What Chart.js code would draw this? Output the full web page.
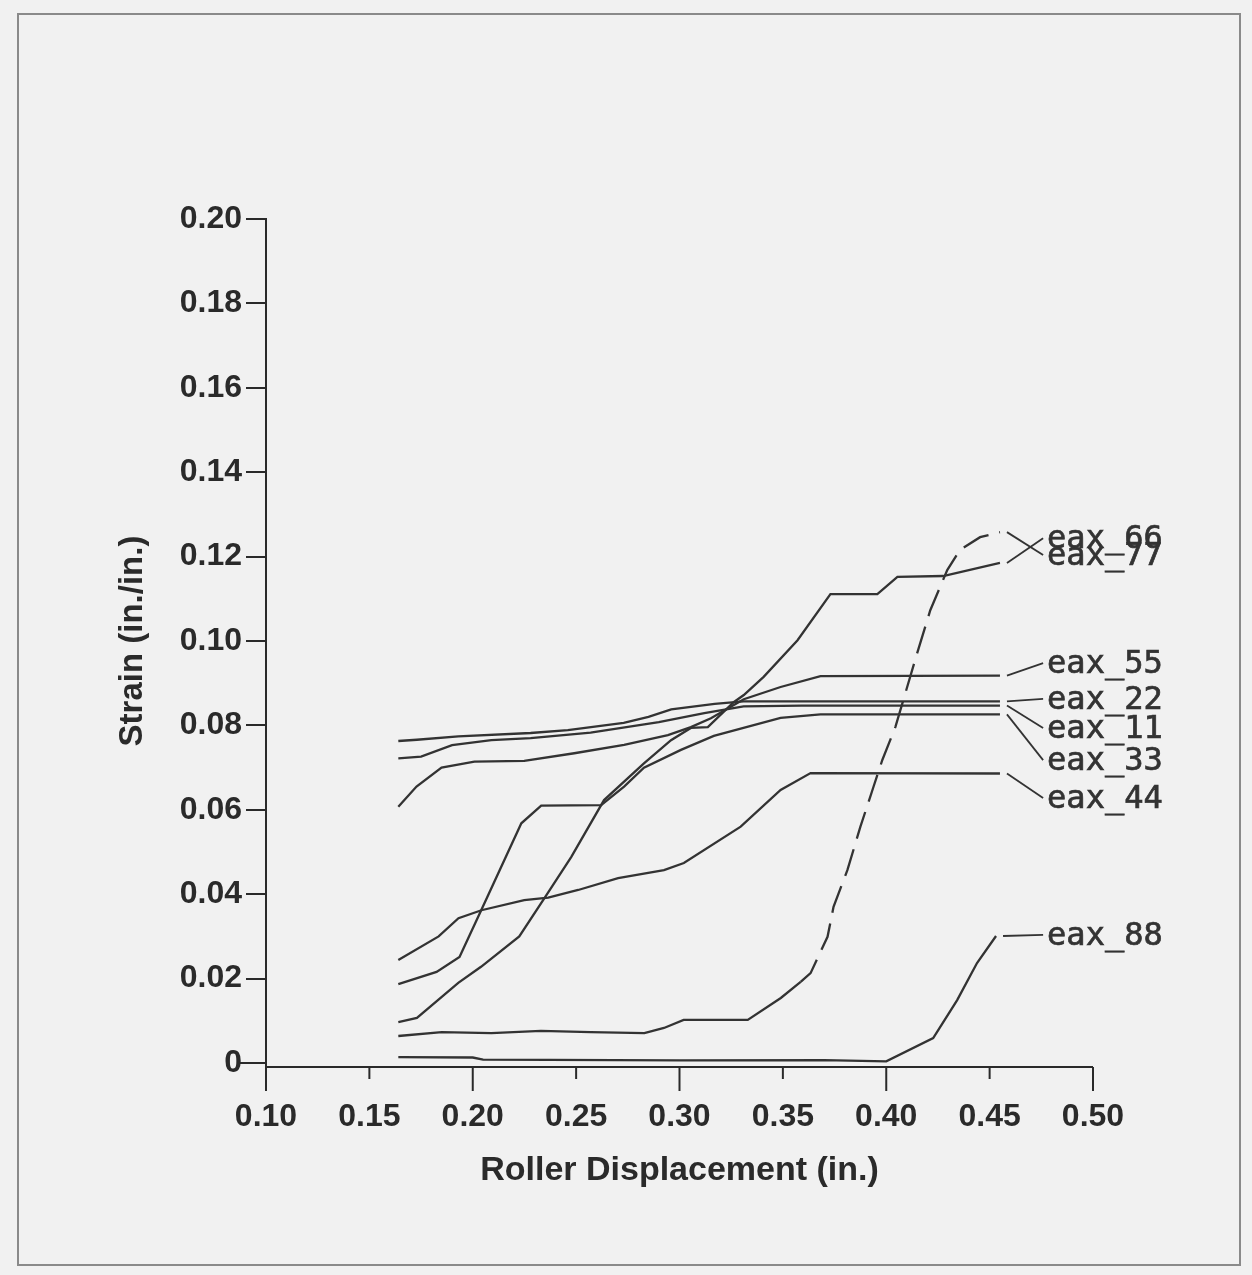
<!DOCTYPE html>
<html>
<head>
<meta charset="utf-8">
<title>Strain vs Roller Displacement</title>
<script src="https://cdn.jsdelivr.net/npm/chart.js@4"></script>
<style>
  html, body { margin: 0; padding: 0; background: #f1f1f1; }
  #wrap { width: 1252px; height: 1275px; position: relative; }
</style>
</head>
<body>
<div id="wrap"><canvas id="c"></canvas></div>
<script>
// Gauge traces: [roller displacement (in.), axial strain (in./in.)]
const eax11 = [[0.164,0.0722],[0.175,0.0726],[0.190,0.0753],[0.209,0.0765],[0.228,0.0770],[0.257,0.0783],[0.290,0.0808],[0.312,0.0829],[0.331,0.0845],[0.359,0.0847],[0.455,0.0847]];
const eax22 = [[0.164,0.0763],[0.173,0.0766],[0.193,0.0774],[0.228,0.0782],[0.246,0.0789],[0.273,0.0806],[0.285,0.0820],[0.296,0.0838],[0.317,0.0851],[0.331,0.0857],[0.455,0.0857]];
const eax33 = [[0.164,0.0187],[0.1825,0.0216],[0.1936,0.0251],[0.2042,0.0363],[0.2235,0.0568],[0.2331,0.0610],[0.2621,0.0611],[0.2732,0.0655],[0.2828,0.0700],[0.3007,0.0742],[0.3166,0.0775],[0.3489,0.0818],[0.3682,0.0826],[0.455,0.0826]];
const eax44 = [[0.164,0.0244],[0.1835,0.0300],[0.1931,0.0343],[0.2042,0.0362],[0.2249,0.0386],[0.2365,0.0392],[0.2510,0.0410],[0.2703,0.0438],[0.2925,0.0457],[0.3021,0.0474],[0.3296,0.0560],[0.3489,0.0647],[0.3634,0.0687],[0.455,0.0686]];
const eax55 = [[0.164,0.0607],[0.1728,0.0655],[0.1849,0.0700],[0.2008,0.0714],[0.2249,0.0716],[0.2491,0.0734],[0.2732,0.0754],[0.2944,0.0777],[0.3055,0.0796],[0.3152,0.0817],[0.3311,0.0862],[0.3489,0.0891],[0.3682,0.0917],[0.455,0.0918]];
const eax66 = [[0.164,0.0097],[0.173,0.0107],[0.193,0.0190],[0.204,0.0228],[0.2225,0.0300],[0.2346,0.0390],[0.2476,0.0488],[0.2635,0.0623],[0.2828,0.0710],[0.2959,0.0765],[0.3055,0.0794],[0.3137,0.0796],[0.3262,0.0855],[0.3311,0.0872],[0.3407,0.0915],[0.3571,0.1002],[0.373,0.1111],[0.3957,0.1111],[0.4054,0.1152],[0.4275,0.1154],[0.455,0.1185]];
const eax77 = [[0.164,0.0064],[0.185,0.0073],[0.209,0.0071],[0.233,0.0076],[0.257,0.0073],[0.283,0.0071],[0.2925,0.0083],[0.302,0.0102],[0.333,0.0102],[0.349,0.0154],[0.3586,0.0192],[0.3634,0.0213],[0.3716,0.0299],[0.3745,0.0370],[0.3812,0.0457],[0.3875,0.0560],[0.3938,0.0654],[0.3981,0.0718],[0.4044,0.0796],[0.415,0.0972],[0.4213,0.1073],[0.4295,0.1168],[0.4357,0.1216],[0.4454,0.1246],[0.455,0.1258]];
const eax88 = [[0.164,0.0014],[0.200,0.0013],[0.205,0.0008],[0.300,0.0006],[0.370,0.0007],[0.400,0.0004],[0.4227,0.0059],[0.4343,0.0149],[0.4439,0.0237],[0.4531,0.0301]];

const seriesNames = ['eax_11','eax_22','eax_33','eax_44','eax_55','eax_66','eax_77','eax_88'];
const seriesData  = [eax11, eax22, eax33, eax44, eax55, eax66, eax77, eax88];
// strain level at which each end label is written
const labelLevels = [0.0789, 0.0858, 0.0713, 0.0623, 0.0943, 0.1239, 0.1199, 0.0299];
const labelAt = 0.4778;

const xTickLabels = ['0.10','0.15','0.20','0.25','0.30','0.35','0.40','0.45','0.50'];
const yTickLabels = ['0','0.02','0.04','0.06','0.08','0.10','0.12','0.14','0.16','0.18','0.20'];

const INK = '#2a2a2a';
const LINE = '#333333';
const dashFrom = 0.35;  // eax_77 is plotted dashed past this displacement

const datasets = seriesData.map((pts, i) => ({
  label: seriesNames[i],
  data: pts.map(p => ({ x: p[0], y: p[1] })),
  borderColor: LINE,
  borderWidth: 2.3,
  pointRadius: 0,
  tension: 0,
  fill: false,
  segment: seriesNames[i] === 'eax_77'
    ? { borderDash: ctx => (ctx.p0.parsed.x >= dashFrom ? [28, 11] : undefined) }
    : undefined
}));

// page background, frame, x-axis line with long/short ticks, end labels with leaders
const decor = {
  id: 'decor',
  beforeDraw(chart) {
    const { ctx, width, height } = chart;
    ctx.save();
    ctx.fillStyle = '#f1f1f1';
    ctx.fillRect(0, 0, width, height);
    ctx.strokeStyle = '#8a8a8a';
    ctx.lineWidth = 2;
    ctx.strokeRect(18, 14, 1222, 1251);
    ctx.restore();
  },
  afterDraw(chart) {
    const { ctx } = chart;
    const xs = chart.scales.x, ys = chart.scales.y;
    const y0 = ys.getPixelForValue(0);
    const left = xs.getPixelForValue(0.10);
    const right = xs.getPixelForValue(0.50);
    ctx.save();
    ctx.strokeStyle = INK;
    ctx.lineWidth = 2;
    ctx.lineCap = 'butt';
    // y axis continues below the x axis
    ctx.beginPath();
    ctx.moveTo(chart.chartArea.left, y0);
    ctx.lineTo(chart.chartArea.left, y0 + 27);
    ctx.stroke();
    // x axis line, slightly below zero and running left past the y axis
    const ax = y0 + 4;
    ctx.beginPath();
    ctx.moveTo(left - 26, y0);
    ctx.lineTo(left, y0);
    ctx.moveTo(left, ax);
    ctx.lineTo(right, ax);
    ctx.stroke();
    xs.ticks.forEach((t, i) => {
      const px = xs.getPixelForValue(t.value);
      const major = i % 2 === 0;
      ctx.beginPath();
      ctx.moveTo(px, ax);
      ctx.lineTo(px, ax + (major ? 24 : 12));
      ctx.stroke();
    });
    // series end labels and leader lines
    ctx.font = '32px "DejaVu Sans Mono", "Liberation Mono", monospace';
    ctx.textBaseline = 'middle';
    ctx.textAlign = 'left';
    ctx.fillStyle = '#333333';
    const lx = xs.getPixelForValue(labelAt);
    seriesData.forEach((pts, i) => {
      const last = pts[pts.length - 1];
      const sx = xs.getPixelForValue(last[0]) + 7;
      const sy = ys.getPixelForValue(last[1]);
      const ly = ys.getPixelForValue(labelLevels[i]);
      ctx.strokeStyle = LINE;
      ctx.lineWidth = 1.8;
      ctx.beginPath();
      ctx.moveTo(sx, sy);
      ctx.lineTo(lx - 4, ly - 2);
      ctx.stroke();
      ctx.fillText(seriesNames[i], lx, ly);
      ctx.lineWidth = 0.7;
      ctx.strokeStyle = '#333333';
      ctx.strokeText(seriesNames[i], lx, ly);
    });
    ctx.restore();
  }
};

new Chart(document.getElementById('c'), {
  type: 'line',
  data: { datasets },
  options: {
    responsive: true,
    maintainAspectRatio: false,
    animation: false,
    devicePixelRatio: 1,
    layout: { padding: { left: 0, top: 219, right: 159, bottom: 0 } },
    plugins: { legend: { display: false }, tooltip: { enabled: false } },
    scales: {
      x: {
        type: 'linear',
        min: 0.10,
        max: 0.50,
        afterFit: s => { s.height = 212; },
        afterBuildTicks: s => { s.ticks = xTickLabels.map(v => ({ value: parseFloat(v) })); },
        ticks: {
          autoSkip: false,
          maxRotation: 0,
          padding: 35,
          color: INK,
          font: { family: '"Liberation Sans", Arial, sans-serif', size: 32, weight: 'bold' },
          callback: (v, i) => xTickLabels[i]
        },
        grid: { drawOnChartArea: false, drawTicks: false },
        border: { display: false },
        title: {
          display: true,
          text: 'Roller Displacement (in.)',
          color: INK,
          font: { family: '"Liberation Sans", Arial, sans-serif', size: 34, weight: 'bold' },
          padding: { top: 0, bottom: 84 }
        }
      },
      y: {
        type: 'linear',
        min: 0,
        max: 0.20,
        afterFit: s => { s.width = 266; },
        afterBuildTicks: s => { s.ticks = yTickLabels.map(v => ({ value: parseFloat(v) })); },
        ticks: {
          autoSkip: false,
          padding: 4,
          color: INK,
          font: { family: '"Liberation Sans", Arial, sans-serif', size: 32, weight: 'bold' },
          callback: (v, i) => yTickLabels[i]
        },
        grid: { drawOnChartArea: false, drawTicks: true, tickLength: 20, color: INK, lineWidth: 2 },
        border: { display: true, color: INK, width: 2 },
        title: {
          display: true,
          text: 'Strain (in./in.)',
          color: INK,
          font: { family: '"Liberation Sans", Arial, sans-serif', size: 33, weight: 'bold' },
          padding: { top: 113, bottom: 0 }
        }
      }
    }
  },
  plugins: [decor]
});
</script>
</body>
</html>
